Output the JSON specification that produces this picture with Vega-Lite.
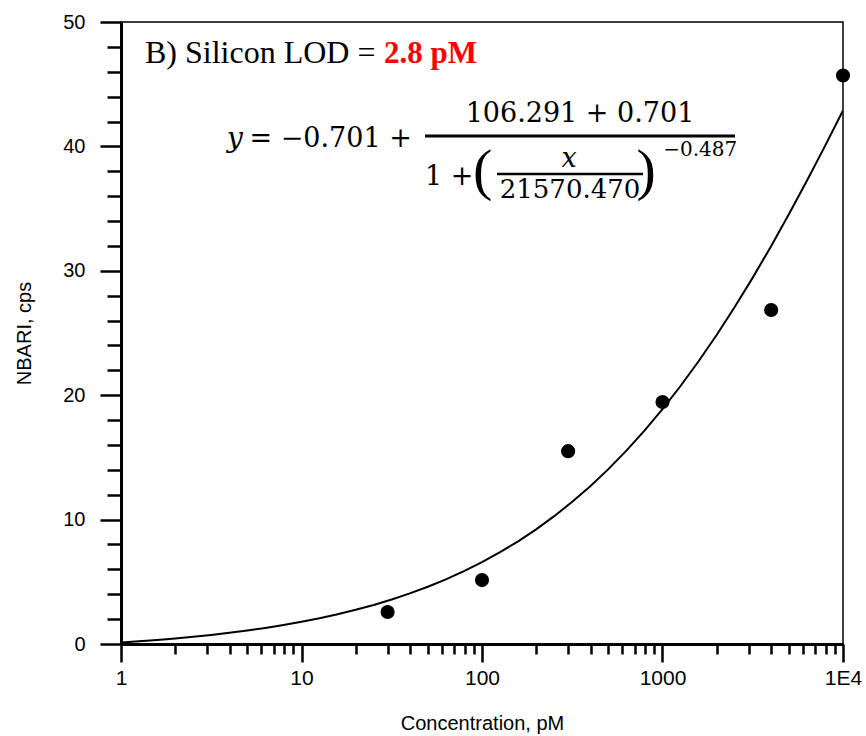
{
  "$schema": "https://vega.github.io/schema/vega-lite/v6.json",
  "width": 722,
  "height": 622,
  "autosize": {"type": "none"},
  "padding": {"left": 121, "top": 22, "right": 23, "bottom": 92},
  "background": "white",
  "config": {
    "view": {"stroke": "black", "strokeWidth": 1.5},
    "font": "Liberation Sans",
    "axis": {"labelOverlap": false, "labelBound": false, "labelFlush": false, "tickCount": 200}
  },
  "datasets": {
    "points": [
      {"conc": 30, "nbari": 2.57},
      {"conc": 100, "nbari": 5.14},
      {"conc": 300, "nbari": 15.5},
      {"conc": 1000, "nbari": 19.45},
      {"conc": 4000, "nbari": 26.85},
      {"conc": 10000, "nbari": 45.7}
    ],
    "curve": [
      {"conc": 1, "nbari": 0.122},
      {"conc": 1.2589, "nbari": 0.219},
      {"conc": 1.5849, "nbari": 0.327},
      {"conc": 1.9953, "nbari": 0.448},
      {"conc": 2.5119, "nbari": 0.582},
      {"conc": 3.1623, "nbari": 0.732},
      {"conc": 3.9811, "nbari": 0.900},
      {"conc": 5.0119, "nbari": 1.087},
      {"conc": 6.3096, "nbari": 1.295},
      {"conc": 7.9433, "nbari": 1.527},
      {"conc": 10, "nbari": 1.785},
      {"conc": 12.589, "nbari": 2.072},
      {"conc": 15.849, "nbari": 2.392},
      {"conc": 19.953, "nbari": 2.747},
      {"conc": 25.119, "nbari": 3.142},
      {"conc": 31.623, "nbari": 3.579},
      {"conc": 39.811, "nbari": 4.065},
      {"conc": 50.119, "nbari": 4.601},
      {"conc": 63.096, "nbari": 5.197},
      {"conc": 79.433, "nbari": 5.855},
      {"conc": 100, "nbari": 6.577},
      {"conc": 125.89, "nbari": 7.377},
      {"conc": 158.49, "nbari": 8.255},
      {"conc": 199.53, "nbari": 9.219},
      {"conc": 251.19, "nbari": 10.275},
      {"conc": 316.23, "nbari": 11.430},
      {"conc": 398.11, "nbari": 12.690},
      {"conc": 501.19, "nbari": 14.059},
      {"conc": 630.96, "nbari": 15.544},
      {"conc": 794.33, "nbari": 17.149},
      {"conc": 1000, "nbari": 18.880},
      {"conc": 1258.9, "nbari": 20.740},
      {"conc": 1584.9, "nbari": 22.726},
      {"conc": 1995.3, "nbari": 24.840},
      {"conc": 2511.9, "nbari": 27.085},
      {"conc": 3162.3, "nbari": 29.453},
      {"conc": 3981.1, "nbari": 31.938},
      {"conc": 5011.9, "nbari": 34.537},
      {"conc": 6309.6, "nbari": 37.234},
      {"conc": 7943.3, "nbari": 40.022},
      {"conc": 10000, "nbari": 42.886}
    ]
  },
  "layer": [
    {
      "data": {"name": "curve"},
      "mark": {"type": "line", "color": "black", "strokeWidth": 2, "clip": true},
      "encoding": {
        "x": {
          "field": "conc", "type": "quantitative",
          "scale": {"type": "log", "domain": [1, 10000], "nice": false},
          "axis": {
            "title": "Concentration, pM",
            "values": [1,2,3,4,5,6,7,8,9,10,20,30,40,50,60,70,80,90,100,200,300,400,500,600,700,800,900,1000,2000,3000,4000,5000,6000,7000,8000,9000,10000],
            "tickCount": 200,
            "labelExpr": "datum.value == 10000 ? '1E4' : (indexof([1,10,100,1000], datum.value) >= 0 ? format(datum.value, 'd') : '')",
            "tickSize": {"condition": {"test": "indexof([1,10,100,1000,10000], datum.value) >= 0", "value": 18}, "value": 10},
            "tickColor": "black", "tickWidth": 2.5,
            "domainColor": "black", "domainWidth": 3,
            "grid": false,
            "labelFont": "Liberation Sans", "labelFontSize": 21, "labelColor": "black",
            "labelPadding": 5, "labelOverlap": false, "labelFlush": false,
            "titleFont": "Liberation Sans", "titleFontSize": 20, "titleFontWeight": "normal", "titleColor": "black",
            "titlePadding": 25
          }
        },
        "y": {
          "field": "nbari", "type": "quantitative",
          "scale": {"domain": [0, 50], "nice": false},
          "axis": {
            "title": "NBARI, cps",
            "values": [0,2,4,6,8,10,12,14,16,18,20,22,24,26,28,30,32,34,36,38,40,42,44,46,48,50],
            "tickCount": 200,
            "labelExpr": "datum.value % 10 == 0 ? format(datum.value, 'd') : ''",
            "tickSize": {"condition": {"test": "datum.value % 10 == 0", "value": 21}, "value": 14},
            "tickColor": "black", "tickWidth": 2.5,
            "domainColor": "black", "domainWidth": 3,
            "grid": false,
            "labelFont": "Liberation Sans", "labelFontSize": 20, "labelColor": "black",
            "labelPadding": 15, "labelOverlap": false, "labelFlush": false,
            "titleFont": "Liberation Sans", "titleFontSize": 20, "titleFontWeight": "normal", "titleColor": "black",
            "titlePadding": 28
          }
        }
      }
    },
    {
      "data": {"name": "points"},
      "mark": {"type": "circle", "color": "black", "size": 200, "opacity": 1},
      "encoding": {
        "x": {"field": "conc", "type": "quantitative"},
        "y": {"field": "nbari", "type": "quantitative"}
      }
    },
    {
      "data": {"values": [{}]},
      "mark": {"type": "text", "text": "B) Silicon LOD = ", "font": "Liberation Serif", "fontSize": 32, "align": "left", "baseline": "alphabetic", "color": "black"},
      "encoding": {"x": {"datum": 1.3585, "type": "quantitative"}, "y": {"datum": 46.70, "type": "quantitative"}}
    },
    {
      "data": {"values": [{}]},
      "mark": {"type": "text", "text": "2.8 pM", "font": "Liberation Serif", "fontSize": 31, "fontWeight": "bold", "align": "left", "baseline": "alphabetic", "color": "#ff0000"},
      "encoding": {"x": {"datum": 28.65, "type": "quantitative"}, "y": {"datum": 46.70, "type": "quantitative"}}
    },
    {
      "data": {"values": [{}]},
      "mark": {"type": "text", "text": "y", "font": "DejaVu Serif", "fontSize": 28, "fontStyle": "italic", "align": "left", "baseline": "alphabetic", "color": "black"},
      "encoding": {"x": {"datum": 3.867, "type": "quantitative"}, "y": {"datum": 39.95, "type": "quantitative"}}
    },
    {
      "data": {"values": [{}]},
      "mark": {"type": "text", "text": "= −0.701 +", "font": "DejaVu Serif", "fontSize": 27, "align": "left", "baseline": "alphabetic", "color": "black"},
      "encoding": {"x": {"datum": 5.15, "type": "quantitative"}, "y": {"datum": 39.95, "type": "quantitative"}}
    },
    {
      "data": {"values": [{}]},
      "mark": {"type": "text", "text": "106.291 + 0.701", "font": "DejaVu Serif", "fontSize": 27, "align": "center", "baseline": "alphabetic", "color": "black"},
      "encoding": {"x": {"datum": 349.1, "type": "quantitative"}, "y": {"datum": 41.96, "type": "quantitative"}}
    },
    {
      "data": {"values": [{}]},
      "mark": {"type": "rule", "color": "black", "strokeWidth": 3},
      "encoding": {"x": {"datum": 48.33, "type": "quantitative"}, "x2": {"datum": 2521}, "y": {"datum": 40.84, "type": "quantitative"}}
    },
    {
      "data": {"values": [{}]},
      "mark": {"type": "text", "text": "1 +", "font": "DejaVu Serif", "fontSize": 27, "align": "left", "baseline": "alphabetic", "color": "black"},
      "encoding": {"x": {"datum": 48.33, "type": "quantitative"}, "y": {"datum": 36.90, "type": "quantitative"}}
    },
    {
      "data": {"values": [{}]},
      "mark": {"type": "text", "text": "(", "font": "Liberation Serif", "fontSize": 58, "align": "left", "baseline": "alphabetic", "color": "black"},
      "encoding": {"x": {"datum": 89.18, "type": "quantitative"}, "y": {"datum": 36.58, "type": "quantitative"}}
    },
    {
      "data": {"values": [{}]},
      "mark": {"type": "text", "text": "x", "font": "DejaVu Serif", "fontSize": 27, "fontStyle": "italic", "align": "center", "baseline": "alphabetic", "color": "black"},
      "encoding": {"x": {"datum": 303.4, "type": "quantitative"}, "y": {"datum": 38.34, "type": "quantitative"}}
    },
    {
      "data": {"values": [{}]},
      "mark": {"type": "rule", "color": "black", "strokeWidth": 2.5},
      "encoding": {"x": {"datum": 121.1, "type": "quantitative"}, "x2": {"datum": 779.9}, "y": {"datum": 37.78, "type": "quantitative"}}
    },
    {
      "data": {"values": [{}]},
      "mark": {"type": "text", "text": "21570.470", "font": "DejaVu Serif", "fontSize": 26, "align": "center", "baseline": "alphabetic", "color": "black"},
      "encoding": {"x": {"datum": 307.3, "type": "quantitative"}, "y": {"datum": 35.85, "type": "quantitative"}}
    },
    {
      "data": {"values": [{}]},
      "mark": {"type": "text", "text": ")", "font": "Liberation Serif", "fontSize": 58, "align": "left", "baseline": "alphabetic", "color": "black"},
      "encoding": {"x": {"datum": 717, "type": "quantitative"}, "y": {"datum": 36.58, "type": "quantitative"}}
    },
    {
      "data": {"values": [{}]},
      "mark": {"type": "text", "text": "−0.487", "font": "DejaVu Serif", "fontSize": 20, "align": "left", "baseline": "alphabetic", "color": "black"},
      "encoding": {"x": {"datum": 1010, "type": "quantitative"}, "y": {"datum": 39.23, "type": "quantitative"}}
    }
  ]
}
